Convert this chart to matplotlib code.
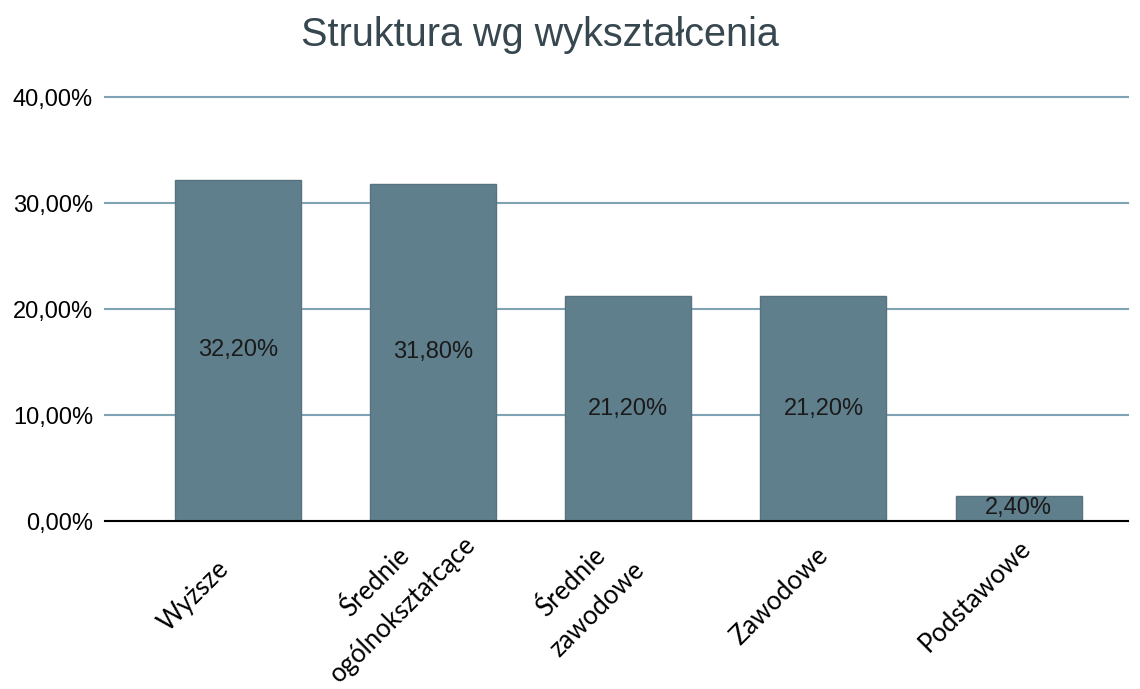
import matplotlib.pyplot as plt
from matplotlib.ticker import FuncFormatter
from matplotlib.transforms import ScaledTranslation

categories = ["Wyższe", "Średnie\nogólnokształcące", "Średnie\nzawodowe", "Zawodowe", "Podstawowe"]
values = [32.2, 31.8, 21.2, 21.2, 2.4]
yticks = [0, 10, 20, 30, 40]


def pl_pct(v, pos=None):
    return f"{v:.2f}%".replace(".", ",")


fig = plt.figure(figsize=(11.4, 6.89), dpi=100)
ax = fig.add_axes([0.0921, 0.2438, 0.8974, 0.6154])

bar_color = "#607f8c"
grid_color = "#7fa3b5"

x = range(len(values))
bars = ax.bar(x, values, width=0.645, color=bar_color, edgecolor="#56737f",
              linewidth=1, zorder=3)

for rect, v in zip(bars, values):
    ax.text(rect.get_x() + rect.get_width() / 2, v / 2, pl_pct(v),
            ha="center", va="center", fontsize=17, family="Liberation Sans",
            color="#1a1a1a", zorder=4)

ax.set_ylim(0, 40)
ax.set_xlim(-0.68, 4.56)
ax.set_yticks(yticks)
ax.yaxis.set_major_formatter(FuncFormatter(pl_pct))
ax.yaxis.grid(True, color=grid_color, linewidth=1.5, zorder=0)
ax.set_axisbelow(True)
for gl in ax.get_ygridlines():
    gl.set_clip_on(False)

for side in ["top", "right", "left"]:
    ax.spines[side].set_visible(False)
ax.spines["bottom"].set_color("black")
ax.spines["bottom"].set_linewidth(1.5)
ax.spines["bottom"].set_zorder(5)

ax.tick_params(axis="y", length=0, pad=8.6, labelsize=17)
for lbl in ax.get_yticklabels():
    lbl.set_family("Liberation Sans")

# x labels: centre of each rotated label sits below-left of its bar
ax.set_xticks(list(x))
ax.set_xticklabels(categories, rotation=45, ha="center", va="center",
                   rotation_mode="anchor", multialignment="center",
                   fontsize=18.5, family="Lato")
ax.tick_params(axis="x", length=0, pad=0)
shift = ScaledTranslation(-0.44, -0.75, fig.dpi_scale_trans)
for lbl in ax.get_xticklabels():
    lbl.set_linespacing(1.65)
    lbl.set_transform(lbl.get_transform() + shift)

fig.text(0.474, 0.949, "Struktura wg wykształcenia", ha="center", va="center",
         fontsize=28.5, color="#37474f", family="Liberation Sans")

fig.savefig("out.png", dpi=100)
